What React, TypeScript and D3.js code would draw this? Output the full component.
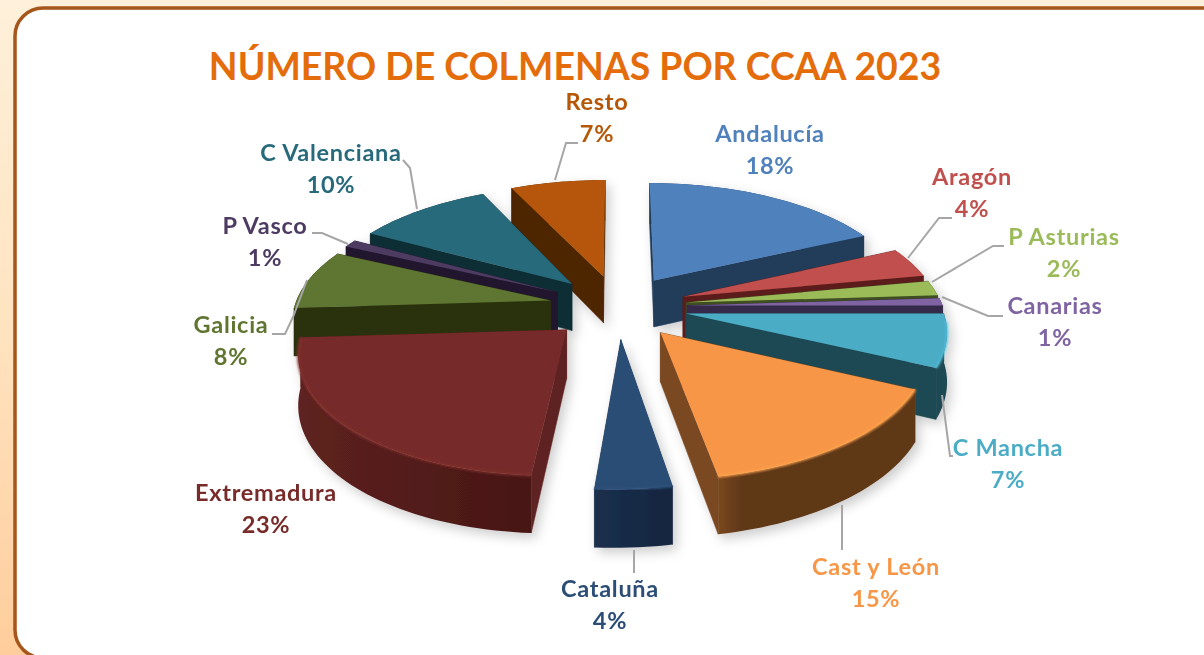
import React from "react";
import * as d3 from "d3";

const WIDTH = 1204;
const HEIGHT = 655;
const TITLE = "NÚMERO DE COLMENAS POR CCAA 2023";

// Data
const regions = ["Andalucía","Aragón","P Asturias","Canarias","C Mancha","Cast y León","Cataluña","Extremadura","Galicia","P Vasco","C Valenciana","Resto"];
const shares = [18,4,2,1,7,15,4,23,8,1,10,7];

// Styles
const topColors = ["#4F81BD","#C0504D","#9BBB59","#8064A2","#4BACC6","#F79646","#2C4D75","#772C2A","#5F7530","#4D3B62","#276A7C","#B65708"];
const sideLight = ["#223C5A","#5C1F1D","#414F22","#352A49","#1F4852","#7A4820","#1B304C","#5E2220","#2A3310","#21182E","#102D35","#4E2502"];
const sideDark = ["#223C5A","#5C1F1D","#414F22","#352A49","#1F4852","#5F3819","#13253F","#481615","#2A3310","#21182E","#102D35","#4E2502"];
const labelColors = topColors;

// Layout
const labelX = [770,972,1064,1055,1008,876,610,266,231,265,331,597];
const labelY = [142,185,245,314,456,575,597,501,333,234,161,110];
const leaders: ([number, number][] | null)[] = [
  null,
  [[908,258],[939,218],[952,218]],
  [[932,282],[993,246],[1004,246]],
  [[942,297],[988,316],[1003,316]],
  [[942,395],[950,456],[953,456]],
  [[842,505],[842,550]],
  [[634,550],[634,573]],
  null,
  [[307,280],[293,317],[285,334],[272,334]],
  [[348,244],[322,233],[312,233]],
  [[417,209],[410,168],[403,160]],
  [[555,180],[566,143],[578,143]],
];

const CX = 618, CY = 306.5, RX = 256, RY = 118;
const EXPLODE = 0.27, PERSP = 0.142, DEPTH = 48, ROT = 0, SKEW = 6;

const sx = d3.scaleLinear().domain([-1, 1]).range([CX - RX, CX + RX]);
const sy = d3.scaleLinear().domain([-1, 1]).range([CY - RY, CY + RY]);

type P = [number, number];
const project = (X: number, Z: number, h: number): P => {
  const s = 1 / (1 - PERSP * Z);
  return [sx(X * s) - SKEW * Math.max(0, Z * s), sy(Z * s) + h * s];
};

const pieGen = d3.pie<number>().sort(null).value((d) => d).startAngle(ROT).endAngle(ROT + 2 * Math.PI);
const arcs = pieGen(shares);
const line = d3.line();

const slices = arcs.map((a, i) => {
  const mid = (a.startAngle + a.endAngle) / 2;
  const ox = EXPLODE * Math.sin(mid);
  const oz = -EXPLODE * Math.cos(mid);
  const world = (t: number, r: number): [number, number] => [ox + r * Math.sin(t), oz - r * Math.cos(t)];
  const n = Math.max(4, Math.ceil((a.endAngle - a.startAngle) / 0.03));
  const angles = d3.range(n + 1).map((k) => a.startAngle + ((a.endAngle - a.startAngle) * k) / n);
  const rim = angles.map((t) => world(t, 1));
  const apex: [number, number] = [ox, oz];
  const topPts = rim.map(([x, z]) => project(x, z, 0));
  const botPts = rim.map(([x, z]) => project(x, z, DEPTH));
  const aTop = project(apex[0], apex[1], 0);
  const aBot = project(apex[0], apex[1], DEPTH);
  const meanZ = (pts: [number, number][]) => d3.mean(pts, (p) => p[1]) as number;
  const walls = [
    { key: "start", z: meanZ([apex, rim[0]]), pts: [aTop, topPts[0], botPts[0], aBot] as P[], fill: sideLight[i] },
    { key: "end", z: meanZ([apex, rim[n]]), pts: [aTop, topPts[n], botPts[n], aBot] as P[], fill: sideLight[i] },
    { key: "arc", z: meanZ(rim) + 0.2, pts: [...topPts, ...botPts.slice().reverse()] as P[], fill: `url(#wall${i})` },
  ].sort((p, q) => d3.ascending(p.z, q.z));
  const frontRim = topPts.filter((_, k) => Math.cos(angles[k]) < -0.05);
  return { i, depthKey: oz, walls, top: [aTop, ...topPts] as P[], frontRim, x0: d3.min(topPts, (p) => p[0]) as number, x1: d3.max(topPts, (p) => p[0]) as number };
});
const ordered = slices.slice().sort((p, q) => d3.ascending(p.depthKey, q.depthKey));

const FONT = "Lato, 'Open Sans', sans-serif";

export default function App() {
  return (
    <svg width={WIDTH} height={HEIGHT} viewBox={`0 0 ${WIDTH} ${HEIGHT}`} style={{ position: "fixed", left: 0, top: 0, display: "block" }}>
      <defs>
        <linearGradient id="bg" x1="0" y1="0" x2="0" y2="1">
          <stop offset="0" stopColor="#FEF0DA" />
          <stop offset="0.5" stopColor="#FFE3C0" />
          <stop offset="1" stopColor="#FFCD9C" />
        </linearGradient>
        <filter id="pieShadow" filterUnits="userSpaceOnUse" x="240" y="130" width="760" height="460">
          <feDropShadow dx="4" dy="5" stdDeviation="6" floodColor="#000" floodOpacity="0.2" />
        </filter>
        <filter id="soft" x="-10%" y="-10%" width="120%" height="120%">
          <feGaussianBlur stdDeviation="1.1" />
        </filter>
        {slices.map((s) => (
          <linearGradient key={s.i} id={`wall${s.i}`} gradientUnits="userSpaceOnUse" x1={s.x0} y1="0" x2={s.x1} y2="0">
            <stop offset="0" stopColor={sideLight[s.i]} />
            <stop offset={s.i === 5 ? 0.12 : 1} stopColor={sideDark[s.i]} />
          </linearGradient>
        ))}
      </defs>
      <rect width={WIDTH} height={HEIGHT} fill="url(#bg)" />
      <rect x={15} y={8} width={1215} height={650} rx={28} ry={28} fill="#FFFFFF" stroke="#A5561A" strokeWidth={3.5} />
      <text x={575} y={80} textAnchor="middle" fontFamily={FONT} fontWeight={700} fontSize={37.4} fill="#E46C0A">{TITLE}</text>

      <g filter="url(#pieShadow)">
        {ordered.map((s) => (
          <g key={s.i}>
            {s.walls.map((w) => (
              <path key={w.key} d={(line(w.pts) as string) + "Z"} fill={w.fill} stroke={w.key === "arc" ? "none" : w.fill} strokeWidth={0.5} />
            ))}
            <path d={(line(s.top) as string) + "Z"} fill={topColors[s.i]} />
            {s.frontRim.length > 1 && (
              <path d={line(s.frontRim) as string} fill="none" stroke={d3.color(topColors[s.i])!.brighter(0.25).formatHex()} strokeWidth={2.5} filter="url(#soft)" opacity={0.9} />
            )}
          </g>
        ))}
      </g>

      {leaders.map((l, i) => l && (
        <path key={i} d={line(l) as string} fill="none" stroke="#A6A6A6" strokeWidth={2} />
      ))}

      {regions.map((name, i) => (
        <g key={name} fontFamily={FONT} fontWeight={700} fontSize={23.5} letterSpacing={0.7} fill={labelColors[i]} textAnchor="middle">
          <text x={labelX[i]} y={labelY[i]}>{name}</text>
          <text x={labelX[i]} y={labelY[i] + 32}>{`${shares[i]}%`}</text>
        </g>
      ))}
    </svg>
  );
}
